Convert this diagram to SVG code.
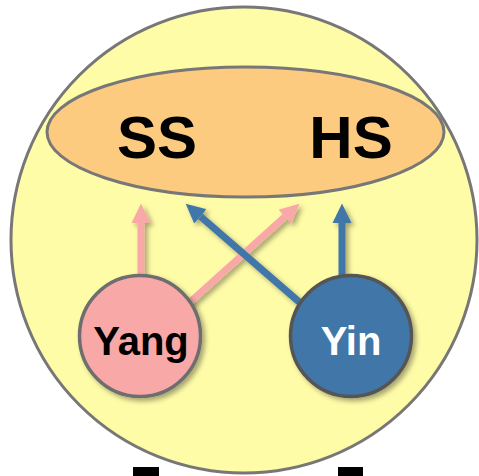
<svg xmlns="http://www.w3.org/2000/svg" width="479" height="476" viewBox="0 0 479 476">
<defs>
<filter id="sh" x="-20%" y="-20%" width="150%" height="150%">
<feDropShadow dx="3" dy="3" stdDeviation="2.5" flood-color="#000" flood-opacity="0.35"/>
</filter>
<marker id="ap" markerUnits="userSpaceOnUse" markerWidth="20" markerHeight="20" refX="0" refY="9.5" orient="auto" viewBox="0 0 20 19"><path d="M0,0 L19.5,9.5 L0,19 z" fill="#F9A8A8"/></marker>
<marker id="ab" markerUnits="userSpaceOnUse" markerWidth="20" markerHeight="20" refX="0" refY="9.5" orient="auto" viewBox="0 0 20 19"><path d="M0,0 L19.5,9.5 L0,19 z" fill="#3F76A8"/></marker>
</defs>
<style>
.lbl{font-family:"Liberation Sans",Arial,sans-serif;font-weight:bold;text-anchor:middle}
.pink{stroke:#F9A8A8;stroke-width:7;fill:none;marker-end:url(#ap)}
.blue{stroke:#3F76A8;stroke-width:7;fill:none;marker-end:url(#ab)}
</style>
<rect width="479" height="476" fill="#fff"/>
<g id="outer">
<circle cx="244" cy="240" r="233" fill="#FFFCA8" stroke="#777" stroke-width="3"/>
</g>
<g id="states">
<ellipse cx="245.5" cy="132" rx="198.5" ry="65" fill="#FDCB80" stroke="#777" stroke-width="3"/>
<text class="lbl" x="157" y="158" font-size="60" fill="#000">SS</text>
<text class="lbl" x="351" y="158" font-size="60" fill="#000">HS</text>
</g>
<g id="connectors" filter="url(#sh)">
<line class="pink" x1="141" y1="290" x2="141" y2="223"/>
<line class="pink" x1="170" y1="320" x2="285" y2="216.7"/>
<line class="blue" x1="320" y1="320" x2="200.4" y2="216.4"/>
<line class="blue" x1="342" y1="290" x2="342" y2="223"/>
</g>
<g id="yang">
<circle cx="140" cy="336" r="60.5" fill="#F9A8A8" stroke="#6e6e6e" stroke-width="3.5" filter="url(#sh)"/>
<text class="lbl" x="141" y="355" font-size="40" fill="#000">Yang</text>
</g>
<g id="yin">
<circle cx="351" cy="336" r="60.5" fill="#3F76A8" stroke="#555" stroke-width="3.5" filter="url(#sh)"/>
<text class="lbl" x="351" y="355" font-size="40" fill="#fff">Yin</text>
</g>
<rect x="133" y="467" width="26" height="9" fill="#000"/>
<rect x="338" y="467" width="25" height="9" fill="#000"/>
</svg>
